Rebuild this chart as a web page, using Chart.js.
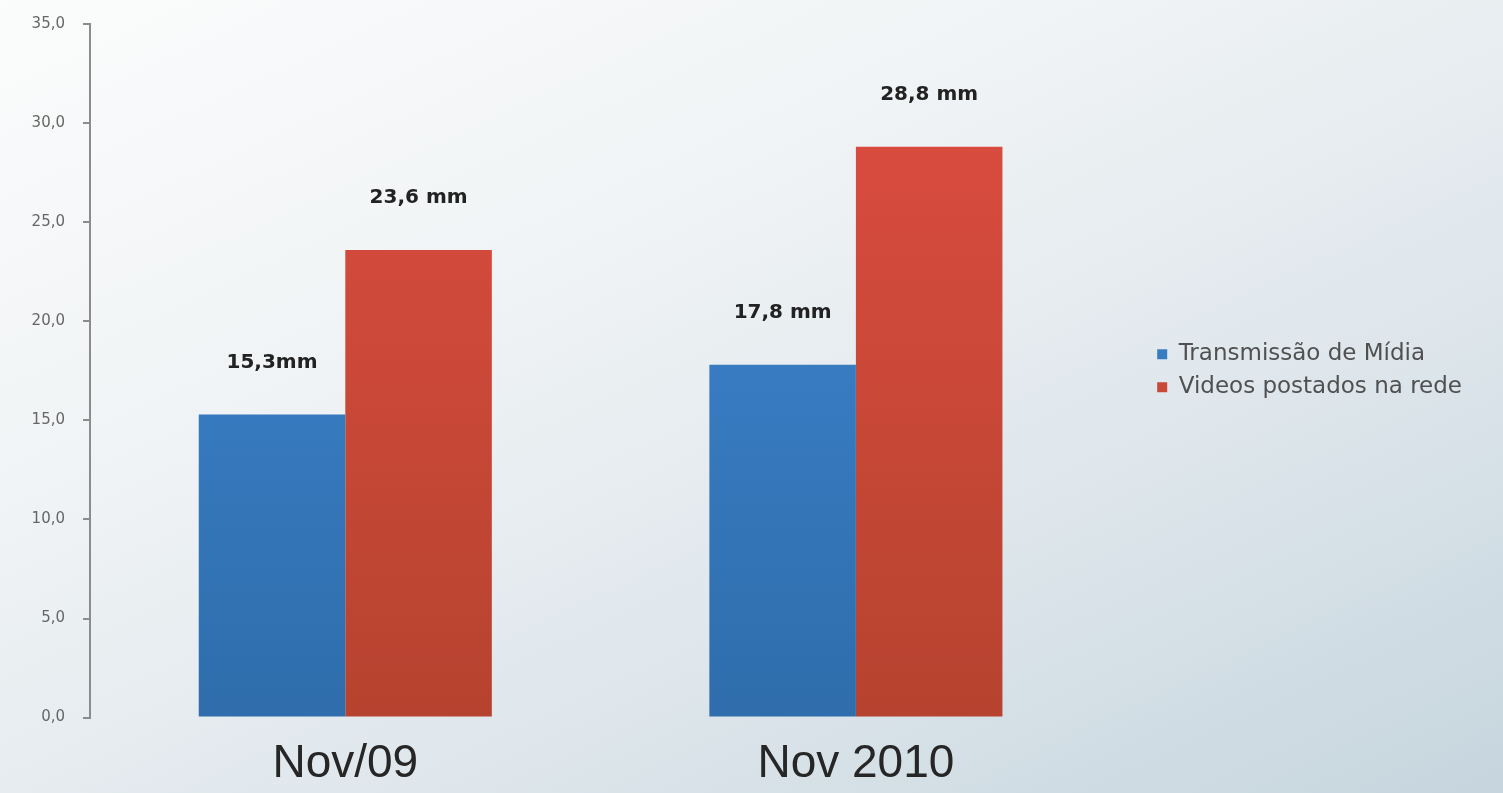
<!DOCTYPE html>
<html>
<head>
<meta charset="utf-8">
<title>Transmissão de Mídia x Vídeos postados na rede</title>
<script src="https://cdn.jsdelivr.net/npm/chart.js@4.4.0/dist/chart.umd.min.js"></script>
<style>
    html, body { margin: 0; padding: 0; }
    body {
        width: 1503px;
        height: 793px;
        overflow: hidden;
        background: linear-gradient(155deg, #fbfcfc 0%, #f0f3f5 35%, #dfe7ec 65%, #c6d5de 100%);
    }
    #grafico { display: block; }
</style>
</head>
<body>
<canvas id="grafico" width="1503" height="793"></canvas>
<script>
// dados do grafico
const categorias = ['Nov/09', 'Nov 2010'];
const nomesSeries = ['Transmissão de Mídia', 'Videos postados na rede'];
const transmissao = [15.3, 17.8];
const videos = [23.6, 28.8];
const rotulosTransmissao = ['15,3mm', '17,8 mm'];
const rotulosVideos = ['23,6 mm', '28,8 mm'];
const eixoY = { min: 0, max: 35, passo: 5 };

// gradiente vertical das barras
function gradiente(corTopo, corBase) {
    return (ctx) => {
        const area = ctx.chart.chartArea;
        if (!area) return corBase;
        const g = ctx.chart.ctx.createLinearGradient(0, area.top, 0, area.bottom);
        g.addColorStop(0, corTopo);
        g.addColorStop(1, corBase);
        return g;
    };
}

// rotulos acima das barras
const pluginRotulos = {
    id: 'rotulos',
    afterDatasetsDraw(chart) {
        const ctx = chart.ctx;
        ctx.save();
        ctx.font = 'bold 20px "DejaVu Sans"';
        ctx.fillStyle = '#222';
        ctx.textAlign = 'center';
        ctx.textBaseline = 'middle';
        chart.data.datasets.forEach((ds, i) => {
            chart.getDatasetMeta(i).data.forEach((barra, j) => {
                ctx.fillText(ds.rotulos[j], barra.x, barra.y - 52);
            });
        });
        ctx.restore();
    },
};

new Chart(document.getElementById('grafico'), {
    type: 'bar',
    data: {
        labels: categorias,
        datasets: [
            {
                label: nomesSeries[0],
                data: transmissao,
                rotulos: rotulosTransmissao,
                backgroundColor: gradiente('#4089d4', '#2f6dac'),
                barPercentage: 1,
                categoryPercentage: 0.574,
            },
            {
                label: nomesSeries[1],
                data: videos,
                rotulos: rotulosVideos,
                backgroundColor: gradiente('#df4d42', '#b6432f'),
                barPercentage: 1,
                categoryPercentage: 0.574,
            },
        ],
    },
    options: {
        responsive: false,
        animation: false,
        layout: { padding: { top: 4, bottom: -18, left: 0, right: 31 } },
        plugins: {
            tooltip: { enabled: false },
            legend: {
                position: 'right',
                fullSize: false,
                maxWidth: 400,
                labels: {
                    boxWidth: 10,
                    boxHeight: 10,
                    padding: 10,
                    color: '#505050',
                    font: { family: 'DejaVu Sans', size: 23 },
                },
            },
        },
        scales: {
            x: {
                grid: { display: false, drawTicks: false },
                border: { display: false },
                ticks: {
                    color: '#262626',
                    padding: 26,
                    font: { family: 'Liberation Sans', size: 46, lineHeight: 0.9 },
                },
            },
            y: {
                min: eixoY.min,
                max: eixoY.max,
                ticks: {
                    stepSize: eixoY.passo,
                    padding: 18,
                    color: '#666',
                    font: { family: 'DejaVu Sans', size: 15, lineHeight: 0.8 },
                    callback: (v) => v.toFixed(1).replace('.', ','),
                },
                grid: { drawOnChartArea: false, tickLength: 7, color: '#8c8c8c', lineWidth: 2 },
                border: { color: '#8c8c8c', width: 2 },
                afterFit: (s) => { s.width = 90; },
            },
            // eixo vazio so para dar espaco antes da legenda
            espaco: {
                position: 'right',
                display: true,
                ticks: { display: false },
                grid: { display: false, drawTicks: false },
                border: { display: false },
                afterFit: (s) => { s.width = 36; },
            },
        },
    },
    plugins: [pluginRotulos],
});
</script>
</body>
</html>
